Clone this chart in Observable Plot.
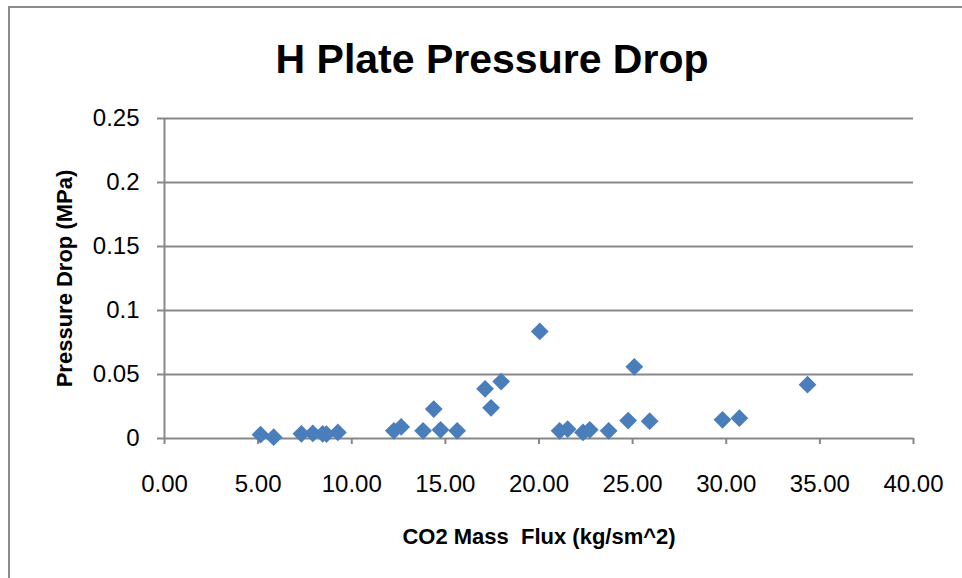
<!DOCTYPE html>
<html>
<head>
<meta charset="utf-8">
<script src="https://cdn.jsdelivr.net/npm/d3@7"></script>
<script src="https://cdn.jsdelivr.net/npm/@observablehq/plot@0.6"></script>
<style>
  html, body { margin: 0; padding: 0; background: #fff; overflow: hidden; }
  #wrap { position: relative; width: 962px; height: 578px; }
  #border { position: absolute; left: 8px; top: 6px; width: 1000px; height: 1000px; border: 2px solid #8c8c8c; box-sizing: border-box; }
  #chart { position: absolute; left: 0; top: 0; }
</style>
</head>
<body>
<div id="wrap"><div id="border"></div><div id="chart"></div></div>
<script>
const title = "H Plate Pressure Drop";
const xLabel = "CO2 Mass\u00a0 Flux (kg/sm^2)";
const yLabel = "Pressure Drop (MPa)";
const massFlux = [5.13, 5.83, 7.31, 7.92, 8.45, 8.65, 9.26, 12.25, 12.64, 13.81, 14.38, 14.74, 15.63,
  17.12, 17.44, 17.98, 20.04, 21.1, 21.53, 22.35, 22.71, 23.72, 24.76, 25.09, 25.91, 29.8, 30.7, 34.34];
const pressureDrop = [0.003, 0.001, 0.0037, 0.004, 0.0037, 0.0035, 0.0047, 0.006, 0.009, 0.006, 0.023, 0.0068, 0.006,
  0.0388, 0.024, 0.0445, 0.0836, 0.006, 0.0073, 0.0047, 0.0068, 0.006, 0.014, 0.056, 0.0135, 0.0146, 0.0159, 0.042];
const xTicks = [0, 5, 10, 15, 20, 25, 30, 35, 40];
const xTickLabels = ["0.00", "5.00", "10.00", "15.00", "20.00", "25.00", "30.00", "35.00", "40.00"];
const yTicks = [0, 0.05, 0.1, 0.15, 0.2, 0.25];
const yTickLabels = ["0", "0.05", "0.1", "0.15", "0.2", "0.25"];

const data = massFlux.map((x, i) => ({x, y: pressureDrop[i]}));
const grid = "#878787";
const font = "'Liberation Sans', Arial, sans-serif";

const plot = Plot.plot({
  width: 962,
  height: 578,
  marginLeft: 164,
  marginRight: 49,
  marginTop: 118,
  marginBottom: 140,
  style: {fontFamily: font, background: "transparent", color: "#000"},
  x: {domain: [0, 40]},
  y: {domain: [0, 0.25]},
  marks: [
    Plot.ruleY(yTicks.filter(d => d > 0), {stroke: grid, strokeWidth: 2}),
    Plot.ruleX([0], {stroke: grid, strokeWidth: 2}),
    Plot.ruleY([0], {stroke: grid, strokeWidth: 2}),
    Plot.axisY({ticks: yTicks, tickSize: 7, tickPadding: 18, stroke: grid, strokeWidth: 2,
      tickFormat: (d, i) => yTickLabels[i], fontSize: 24, label: null, fill: "#000"}),
    Plot.axisX({ticks: xTicks, tickSize: 6, tickPadding: 30, stroke: grid, strokeWidth: 2,
      tickFormat: (d, i) => xTickLabels[i], fontSize: 24, label: null, fill: "#000"}),
    Plot.dot(data, {x: "x", y: "y", symbol: "diamond2", r: 8, fill: "#4a7ebb", stroke: "none"}),
    Plot.text([title], {frameAnchor: "top", dx: -47, dy: -59, lineAnchor: "middle", textAnchor: "middle",
      text: d => d, fontSize: 41, fontWeight: "bold", fill: "#000"}),
    Plot.text([xLabel], {frameAnchor: "bottom", dy: 98, lineAnchor: "middle", textAnchor: "middle",
      text: d => d, fontSize: 22, fontWeight: "bold", fill: "#000"}),
    Plot.text([yLabel], {frameAnchor: "left", dx: -100, rotate: -90, lineAnchor: "middle", textAnchor: "middle",
      text: d => d, fontSize: 22, fontWeight: "bold", fill: "#000"})
  ]
});
document.getElementById("chart").appendChild(plot);
</script>
</body>
</html>
